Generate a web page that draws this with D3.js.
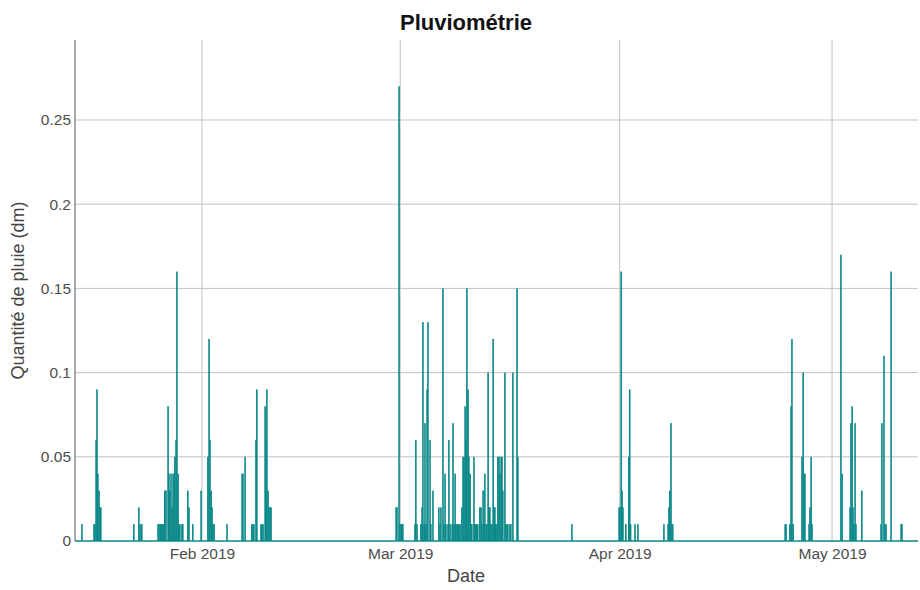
<!DOCTYPE html>
<html>
<head>
<meta charset="utf-8">
<script src="https://cdn.jsdelivr.net/npm/d3@7"></script>
<style>
  body { margin: 0; background: #fff; }
  text { font-family: "Liberation Sans", Arial, sans-serif; }
</style>
</head>
<body>
<div id="chart"></div>
<script>
"use strict";

// rain events (hourly records, all other hours are 0)
const times = [
  "2019-01-15T01:00", "2019-01-16T18:00", "2019-01-16T21:00", "2019-01-17T01:00", "2019-01-17T04:00",
  "2019-01-17T07:00", "2019-01-17T11:00", "2019-01-17T14:00", "2019-01-17T17:00",
  "2019-01-22T09:00", "2019-01-23T02:00", "2019-01-23T06:00", "2019-01-23T12:00",
  "2019-01-25T19:00", "2019-01-25T22:00", "2019-01-26T02:00", "2019-01-26T05:00", "2019-01-26T08:00",
  "2019-01-26T12:00", "2019-01-26T15:00", "2019-01-26T18:00", "2019-01-26T22:00", "2019-01-27T05:00",
  "2019-01-27T08:00", "2019-01-27T11:00", "2019-01-27T15:00", "2019-01-27T18:00", "2019-01-27T22:00",
  "2019-01-28T01:00", "2019-01-28T04:00", "2019-01-28T08:00", "2019-01-28T11:00", "2019-01-28T15:00",
  "2019-01-28T18:00", "2019-01-28T21:00", "2019-01-29T04:00", "2019-01-29T07:00",
  "2019-01-30T00:00", "2019-01-30T04:00", "2019-01-30T17:00", "2019-01-31T21:00",
  "2019-02-01T20:00", "2019-02-02T00:00", "2019-02-02T03:00", "2019-02-02T07:00", "2019-02-02T10:00",
  "2019-02-02T13:00", "2019-02-02T17:00", "2019-02-04T13:00",
  "2019-02-06T16:00", "2019-02-06T19:00", "2019-02-07T02:00", "2019-02-08T01:00", "2019-02-08T05:00",
  "2019-02-08T08:00", "2019-02-08T15:00", "2019-02-08T18:00", "2019-02-09T08:00", "2019-02-09T11:00",
  "2019-02-09T15:00", "2019-02-09T22:00", "2019-02-10T01:00", "2019-02-10T04:00", "2019-02-10T08:00",
  "2019-02-10T11:00", "2019-02-10T15:00", "2019-02-10T18:00",
  "2019-02-28T10:00", "2019-02-28T13:00", "2019-02-28T20:00", "2019-02-28T23:00", "2019-03-01T03:00",
  "2019-03-01T06:00", "2019-03-01T09:00",
  "2019-03-03T02:00", "2019-03-03T05:00", "2019-03-03T09:00", "2019-03-03T22:00", "2019-03-04T02:00",
  "2019-03-04T05:00", "2019-03-04T09:00", "2019-03-04T12:00", "2019-03-04T15:00", "2019-03-04T19:00",
  "2019-03-04T22:00", "2019-03-05T05:00", "2019-03-05T08:00", "2019-03-05T15:00",
  "2019-03-06T11:00", "2019-03-06T15:00", "2019-03-06T18:00", "2019-03-07T01:00", "2019-03-07T04:00",
  "2019-03-07T08:00", "2019-03-07T11:00", "2019-03-07T18:00", "2019-03-07T21:00", "2019-03-08T01:00",
  "2019-03-08T08:00", "2019-03-08T11:00", "2019-03-08T14:00", "2019-03-08T18:00", "2019-03-08T21:00",
  "2019-03-09T01:00", "2019-03-09T04:00", "2019-03-09T07:00", "2019-03-09T11:00", "2019-03-09T17:00",
  "2019-03-09T21:00", "2019-03-10T00:00", "2019-03-10T04:00", "2019-03-10T07:00", "2019-03-10T10:00",
  "2019-03-10T14:00", "2019-03-10T17:00", "2019-03-10T21:00", "2019-03-11T00:00", "2019-03-11T03:00",
  "2019-03-11T10:00", "2019-03-11T13:00", "2019-03-11T16:00", "2019-03-11T20:00", "2019-03-11T23:00",
  "2019-03-12T06:00", "2019-03-12T10:00", "2019-03-12T13:00", "2019-03-12T17:00", "2019-03-12T20:00",
  "2019-03-12T23:00", "2019-03-13T03:00", "2019-03-13T06:00", "2019-03-13T10:00", "2019-03-13T13:00",
  "2019-03-13T16:00", "2019-03-13T20:00", "2019-03-13T23:00", "2019-03-14T03:00", "2019-03-14T06:00",
  "2019-03-14T09:00", "2019-03-14T12:00", "2019-03-14T16:00", "2019-03-14T19:00", "2019-03-14T23:00",
  "2019-03-15T02:00", "2019-03-15T06:00", "2019-03-15T09:00", "2019-03-15T12:00", "2019-03-15T19:00",
  "2019-03-15T22:00", "2019-03-16T02:00", "2019-03-16T05:00", "2019-03-16T12:00", "2019-03-16T15:00",
  "2019-03-16T22:00", "2019-03-17T12:00", "2019-03-17T15:00",
  "2019-03-25T06:00",
  "2019-03-31T22:00", "2019-04-01T01:00", "2019-04-01T05:00", "2019-04-01T08:00", "2019-04-01T11:00",
  "2019-04-01T21:00", "2019-04-02T07:00", "2019-04-02T10:00", "2019-04-02T13:00", "2019-04-03T04:00",
  "2019-04-03T14:00",
  "2019-04-07T06:00", "2019-04-07T20:00", "2019-04-07T23:00", "2019-04-08T02:00", "2019-04-08T06:00",
  "2019-04-08T09:00", "2019-04-08T12:00",
  "2019-04-24T09:00", "2019-04-24T12:00", "2019-04-25T01:00", "2019-04-25T05:00", "2019-04-25T08:00",
  "2019-04-25T12:00", "2019-04-26T18:00", "2019-04-26T22:00", "2019-04-27T01:00", "2019-04-27T04:00",
  "2019-04-27T18:00", "2019-04-27T21:00", "2019-04-28T01:00", "2019-04-28T04:00",
  "2019-05-02T06:00", "2019-05-02T10:00", "2019-05-03T13:00", "2019-05-03T16:00", "2019-05-03T20:00",
  "2019-05-03T23:00", "2019-05-04T02:00", "2019-05-04T06:00", "2019-05-04T09:00", "2019-05-05T05:00",
  "2019-05-07T22:00", "2019-05-08T01:00", "2019-05-08T08:00", "2019-05-08T11:00", "2019-05-08T15:00",
  "2019-05-09T08:00", "2019-05-10T18:00", "2019-05-10T21:00"
];
const rain = [
  0.01, 0.01, 0.01, 0.06, 0.09,
  0.04, 0.03, 0.02, 0.02,
  0.01, 0.02, 0.01, 0.01,
  0.01, 0.01, 0.01, 0.01, 0.01,
  0.01, 0.01, 0.03, 0.03, 0.08,
  0.04, 0.03, 0.04, 0.02, 0.04,
  0.04, 0.05, 0.06, 0.16, 0.04,
  0.01, 0.01, 0.01, 0.01,
  0.03, 0.02, 0.01, 0.03,
  0.05, 0.12, 0.06, 0.03, 0.02,
  0.01, 0.01, 0.01,
  0.04, 0.04, 0.05, 0.01, 0.01,
  0.01, 0.06, 0.09, 0.01, 0.01,
  0.01, 0.08, 0.06, 0.09, 0.03,
  0.02, 0.02, 0.02,
  0.02, 0.02, 0.27, 0.01, 0.01,
  0.01, 0.01,
  0.01, 0.06, 0.01, 0.01, 0.02,
  0.13, 0.01, 0.07, 0.01, 0.09,
  0.13, 0.06, 0.01, 0.03,
  0.02, 0.01, 0.02, 0.15, 0.01,
  0.04, 0.01, 0.01, 0.06, 0.01,
  0.01, 0.07, 0.01, 0.04, 0.01,
  0.01, 0.01, 0.01, 0.01, 0.02,
  0.05, 0.05, 0.08, 0.06, 0.15,
  0.09, 0.05, 0.04, 0.01, 0.01,
  0.05, 0.01, 0.01, 0.01, 0.01,
  0.02, 0.02, 0.01, 0.03, 0.01,
  0.04, 0.01, 0.01, 0.10, 0.02,
  0.02, 0.01, 0.01, 0.12, 0.02,
  0.02, 0.01, 0.01, 0.05, 0.05,
  0.04, 0.05, 0.05, 0.03, 0.10,
  0.01, 0.01, 0.01, 0.01, 0.01,
  0.10, 0.15, 0.05,
  0.01,
  0.02, 0.02, 0.16, 0.03, 0.02,
  0.01, 0.05, 0.09, 0.01, 0.01,
  0.01,
  0.01, 0.01, 0.02, 0.03, 0.07,
  0.01, 0.01,
  0.01, 0.01, 0.01, 0.08, 0.12,
  0.01, 0.05, 0.10, 0.04, 0.04,
  0.01, 0.02, 0.05, 0.01,
  0.17, 0.04, 0.02, 0.07, 0.08,
  0.02, 0.01, 0.07, 0.01, 0.03,
  0.01, 0.07, 0.11, 0.01, 0.01,
  0.16, 0.01, 0.01
];
const dateRange = ["2019-01-14T01:30", "2019-05-13T03:20"];
const yTicks = [0, 0.05, 0.1, 0.15, 0.2, 0.25];

const cont = {
    width: 920,
    height: 590,
    marginTop: 40,
    marginBottom: 49,
    marginLeft: 75,
    marginRight: 2,
}
const barColor = "#0a8888";
const parseTime = d3.timeParse("%Y-%m-%dT%H:%M");

const data = times.map((t, i) => ({ date: parseTime(t), value: rain[i] }));

const svg = d3.select("#chart")
    .append("svg")
    .attr("width", cont.width)
    .attr("height", cont.height);

const xScale = d3.scaleTime()
    .domain(dateRange.map(parseTime))
    .range([cont.marginLeft, cont.width - cont.marginRight]);

const yScale = d3.scaleLinear()
    .domain([0, 0.2975])
    .range([cont.height - cont.marginBottom, cont.marginTop]);

const bottom = yScale(0);

// grid lines
svg.append("g")
    .selectAll("line")
    .data(yTicks.filter(d => d > 0))
    .join("line")
    .attr("x1", cont.marginLeft)
    .attr("x2", cont.width - cont.marginRight)
    .attr("y1", d => yScale(d))
    .attr("y2", d => yScale(d))
    .attr("stroke", "#c2c2c2")
    .attr("stroke-width", 1);

const monthTicks = xScale.ticks(d3.timeMonth.every(1));
svg.append("g")
    .selectAll("line")
    .data(monthTicks)
    .join("line")
    .attr("x1", d => xScale(d))
    .attr("x2", d => xScale(d))
    .attr("y1", cont.marginTop)
    .attr("y2", bottom)
    .attr("stroke", "#c2c2c2")
    .attr("stroke-width", 1);

// bars
svg.append("g")
    .selectAll("rect")
    .data(data)
    .join("rect")
    .attr("x", d => xScale(d.date) - 0.8)
    .attr("width", 1.6)
    .attr("y", d => yScale(d.value))
    .attr("height", d => bottom - yScale(d.value))
    .attr("fill", barColor);

// zero values line
svg.append("line")
    .attr("x1", cont.marginLeft)
    .attr("x2", cont.width - cont.marginRight)
    .attr("y1", bottom)
    .attr("y2", bottom)
    .attr("stroke", barColor)
    .attr("stroke-width", 1.5);

// y axis
const yAxis = d3.axisLeft(yScale)
    .tickValues(yTicks)
    .tickSize(0)
    .tickPadding(4)
    .tickFormat(d => +d.toFixed(2));
const yG = svg.append("g")
    .attr("transform", "translate(" + cont.marginLeft + ",0)")
    .call(yAxis);
yG.select(".domain")
    .attr("stroke", "#555")
    .attr("d", "M0," + cont.marginTop + "V" + bottom);
yG.selectAll("text")
    .attr("font-size", 15.5)
    .attr("fill", "#4d4d4d");

// x axis
const xAxis = d3.axisBottom(xScale)
    .tickValues(monthTicks)
    .tickSize(0)
    .tickPadding(7)
    .tickFormat(d3.timeFormat("%b %Y"));
const xG = svg.append("g")
    .attr("transform", "translate(0," + bottom + ")")
    .call(xAxis);
xG.select(".domain").remove();
xG.selectAll("text")
    .attr("font-size", 15.5)
    .attr("fill", "#4d4d4d");

// labels
svg.append("text")
    .attr("x", 466)
    .attr("y", 30)
    .attr("text-anchor", "middle")
    .attr("font-size", 22)
    .attr("font-weight", "bold")
    .attr("fill", "#111")
    .text("Pluviométrie");

svg.append("text")
    .attr("x", 466)
    .attr("y", 582)
    .attr("text-anchor", "middle")
    .attr("font-size", 18)
    .attr("fill", "#444")
    .text("Date");

svg.append("text")
    .attr("transform", "translate(24," + ((cont.marginTop + bottom) / 2) + ") rotate(-90)")
    .attr("text-anchor", "middle")
    .attr("font-size", 18)
    .attr("fill", "#444")
    .text("Quantité de pluie (dm)");
</script>
</body>
</html>
